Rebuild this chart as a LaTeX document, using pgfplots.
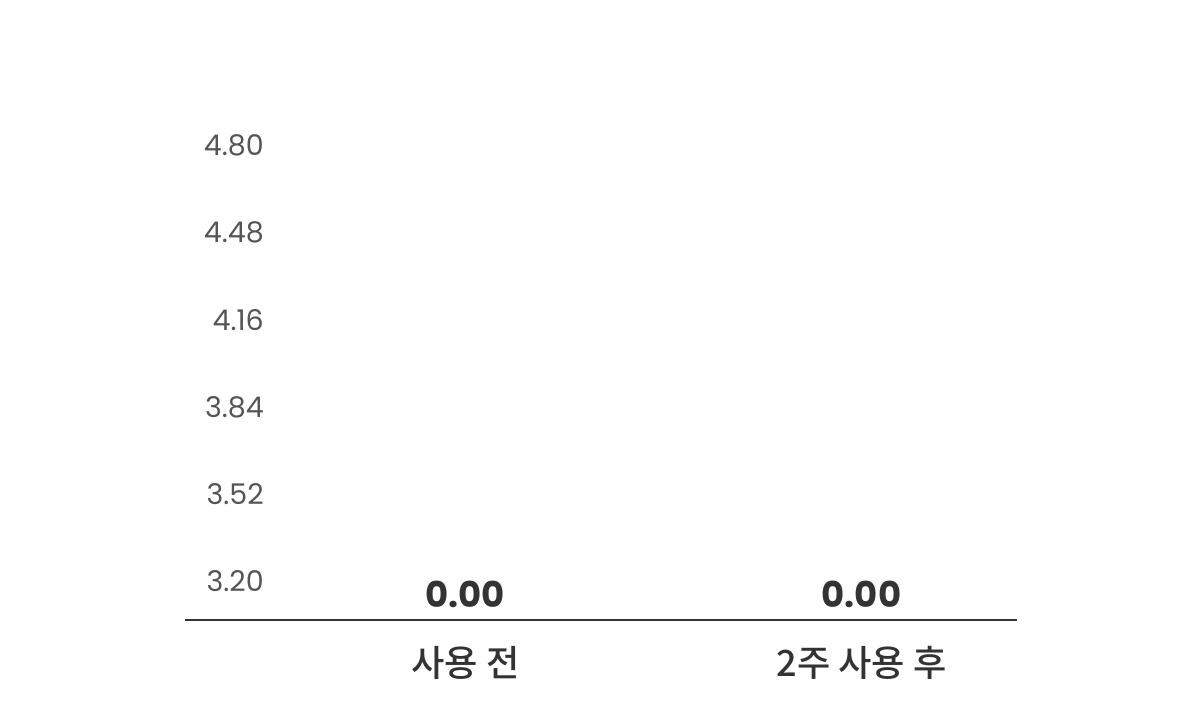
\documentclass[border=0pt]{standalone}
\usepackage{fontspec}
\usepackage{pgfplots}
\pgfplotsset{compat=1.18}
\setmainfont{Poppins}
\newfontfamily\kr{Noto Sans CJK KR}[UprightFont=* Medium]
\definecolor{tickgray}{RGB}{85,85,85}
\definecolor{darktxt}{RGB}{51,51,51}

\begin{document}
\begin{tikzpicture}[x=0.01cm,y=0.01cm]
\path[use as bounding box] (0,0) rectangle (1200,726);
\begin{axis}[
    at={(1.85cm,1.06cm)}, anchor=south west,
    scale only axis,
    width=8.31cm, height=4.74cm,
    xmin=-0.7071, xmax=1.3914,
    ymin=3.0566, ymax=4.80,
    separate axis lines,
    axis x line*=bottom,
    axis y line*=left,
    x axis line style={draw=darktxt, line width=0.35pt, -},
    y axis line style={draw=none},
    xtick={0,1},
    xticklabels={사용 전, 2주 사용 후},
    xticklabel style={font=\kr\fontsize{10.3}{12}\selectfont, text=darktxt, yshift=-4pt},
    major tick length=0pt,
    ytick={3.20,3.52,3.84,4.16,4.48,4.80},
    yticklabel style={anchor=east, font=\fontsize{8.1}{9}\selectfont, text=tickgray, xshift=0.91cm},
    yticklabel={\pgfmathprintnumber[fixed,fixed zerofill,precision=2]{\tick}},
    /pgf/number format/assume math mode=true,
    clip=false,
]
\addplot[draw=none, mark=none, point meta=explicit,
    nodes near coords={\pgfmathprintnumber[fixed,fixed zerofill,precision=2,assume math mode=true]{\pgfplotspointmeta}},
    every node near coord/.append style={anchor=south, font=\bfseries\fontsize{10.1}{12}\selectfont, text=darktxt, yshift=0pt}]
    coordinates {(0,3.0566) [0] (1,3.0566) [0]};
\end{axis}
\end{tikzpicture}
\end{document}
